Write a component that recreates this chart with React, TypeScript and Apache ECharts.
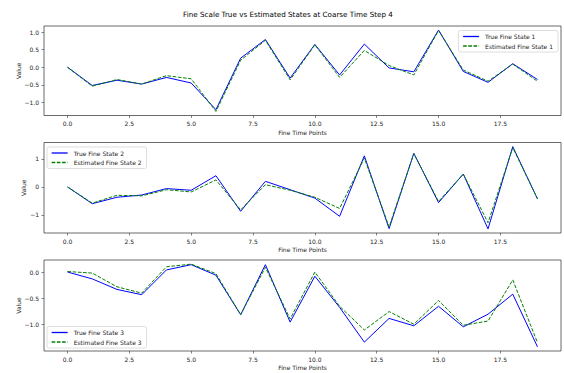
import React, { useEffect, useRef } from "react";
import * as echarts from "echarts";

// Fine time points shared by all three panels
const fineTime = [0, 1, 2, 3, 4, 5, 6, 7, 8, 9, 10, 11, 12, 13, 14, 15, 16, 17, 18, 19];

// State 1
const trueState1 = [0, -0.52, -0.37, -0.48, -0.29, -0.45, -1.21, 0.26, 0.79, -0.31, 0.65, -0.22, 0.66, -0.02, -0.13, 1.06, -0.12, -0.43, 0.1, -0.35];
const estState1 = [0, -0.54, -0.35, -0.48, -0.24, -0.33, -1.26, 0.2, 0.77, -0.36, 0.64, -0.29, 0.48, 0.05, -0.22, 1.05, -0.08, -0.4, 0.09, -0.4];

// State 2
const trueState2 = [0, -0.6, -0.37, -0.29, -0.06, -0.12, 0.4, -0.87, 0.2, -0.1, -0.4, -1.05, 1.11, -1.49, 1.2, -0.56, 0.46, -1.5, 1.44, -0.43];
const estState2 = [0, -0.58, -0.3, -0.32, -0.1, -0.18, 0.25, -0.82, 0.08, -0.12, -0.37, -0.77, 1.03, -1.43, 1.19, -0.52, 0.46, -1.28, 1.4, -0.42];

// State 3
const trueState3 = [0, -0.13, -0.33, -0.43, 0.04, 0.14, -0.06, -0.81, 0.14, -0.95, -0.08, -0.67, -1.33, -0.88, -1.02, -0.65, -1.04, -0.8, -0.42, -1.42];
const estState3 = [0.01, -0.02, -0.28, -0.4, 0.1, 0.15, -0.03, -0.81, 0.09, -0.89, 0, -0.65, -1.1, -0.75, -0.99, -0.54, -1.01, -0.93, -0.15, -1.34];

const xTicks = [0, 2.5, 5, 7.5, 10, 12.5, 15, 17.5];
const yTicks1 = [-1, -0.5, 0, 0.5, 1];
const yTicks2 = [-1, 0, 1];
const yTicks3 = [-1.5, -1, -0.5, 0];

const TITLE = "Fine Scale True vs Estimated States at Coarse Time Step 4";
const X_NAME = "Fine Time Points";
const Y_NAME = "Value";

const FONT = "DejaVu Sans";
const TEXT = "#222";
const BLUE = "#0000ff";
const GREEN = "#008000";

const pairs = (ys: number[]) => fineTime.map((t, i) => [t, ys[i]]);

function padded(values: number[]) {
  const lo = Math.min(...values);
  const hi = Math.max(...values);
  const m = (hi - lo) * 0.05;
  return { min: lo - m, max: hi + m };
}

const fmt = (digits: number) => (v: number) =>
  (v < 0 ? "\u2212" : "") + Math.abs(v).toFixed(digits);

const grids = [
  { top: 26, height: 89.5 },
  { top: 142.5, height: 90.5 },
  { top: 260, height: 91 },
];

export default function App() {
  const ref = useRef<HTMLDivElement>(null);

  useEffect(() => {
    if (!ref.current) return;
    const chart = echarts.init(ref.current, undefined, { renderer: "svg" });

    const panels = [
      { t: trueState1, e: estState1, ticks: yTicks1, digits: 1, gap: 22.5, n: 1 },
      { t: trueState2, e: estState2, ticks: yTicks2, digits: 0, gap: 17.5, n: 2 },
      { t: trueState3, e: estState3, ticks: yTicks3, digits: 1, gap: 23, n: 3 },
    ];

    const xr = padded(fineTime);

    const xAxis = panels.map((_, i) => ({
      type: "value",
      gridIndex: i,
      min: xr.min,
      max: xr.max,
      name: X_NAME,
      nameLocation: "middle",
      nameGap: 13.5,
      nameMoveOverlap: false,
      nameTextStyle: { fontFamily: FONT, fontSize: 6, color: TEXT },
      axisLine: { show: false, onZero: false },
      splitLine: { show: false },
      axisTick: {
        show: true,
        length: 2.5,
        customValues: xTicks,
        lineStyle: { color: "#333", width: 0.6 },
      },
      axisLabel: {
        customValues: xTicks,
        formatter: fmt(1),
        fontFamily: FONT,
        fontSize: 6,
        color: TEXT,
        margin: 5,
      },
    }));

    const yAxis = panels.map((p, i) => {
      const r = padded([...p.t, ...p.e]);
      return {
        type: "value",
        gridIndex: i,
        min: r.min,
        max: r.max,
        name: Y_NAME,
        nameLocation: "middle",
        nameRotate: 90,
        nameGap: p.gap,
        nameMoveOverlap: false,
        nameTextStyle: { fontFamily: FONT, fontSize: 6, color: TEXT },
        axisLine: { show: false, onZero: false },
        splitLine: { show: false },
        axisTick: {
          show: true,
          length: 2.5,
          customValues: p.ticks,
          lineStyle: { color: "#333", width: 0.6 },
        },
        axisLabel: {
          customValues: p.ticks,
          formatter: fmt(p.digits),
          fontFamily: FONT,
          fontSize: 6,
          color: TEXT,
          margin: 5,
        },
      };
    });

    const series: any[] = [];
    panels.forEach((p, i) => {
      series.push({
        type: "line",
        name: `True Fine State ${p.n}`,
        xAxisIndex: i,
        yAxisIndex: i,
        data: pairs(p.t),
        symbol: "none",
        lineStyle: { color: BLUE, width: 1 },
        itemStyle: { color: BLUE },
      });
      series.push({
        type: "line",
        name: `Estimated Fine State ${p.n}`,
        xAxisIndex: i,
        yAxisIndex: i,
        data: pairs(p.e),
        symbol: "none",
        lineStyle: { color: GREEN, width: 1, type: [3.6, 1.6] },
        itemStyle: { color: GREEN },
      });
    });

    const legendBase = {
      orient: "vertical",
      itemWidth: 16,
      itemHeight: 7,
      itemGap: 3.5,
      padding: [3, 5, 3, 4],
      backgroundColor: "rgba(255,255,255,0.8)",
      borderColor: "#d6d6d6",
      borderWidth: 0.8,
      borderRadius: 2,
      // hide the marker dot so each legend entry is just its line sample
      itemStyle: { color: "transparent", borderWidth: 0, opacity: 0 },
      lineStyle: { width: 1.3 },
      textStyle: { fontFamily: FONT, fontSize: 6, color: TEXT, padding: [0, 0, 0, 1] },
    };

    chart.setOption({
      animation: false,
      backgroundColor: "#fff",
      graphic: [
        {
          type: "text",
          x: 288,
          y: 14,
          style: {
            text: TITLE,
            fontFamily: FONT,
            fontSize: 7.2,
            fill: "#000",
            align: "center",
            verticalAlign: "middle",
          },
        },
      ],
      grid: grids.map((g) => ({
        left: 44,
        right: 3,
        top: g.top,
        height: g.height,
        show: true,
        borderColor: "#444",
        borderWidth: 0.8,
        backgroundColor: "transparent",
      })),
      xAxis,
      yAxis,
      legend: [
        { ...legendBase, data: ["True Fine State 1", "Estimated Fine State 1"], right: 6, top: 30.5 },
        { ...legendBase, data: ["True Fine State 2", "Estimated Fine State 2"], left: 47, top: 147 },
        { ...legendBase, data: ["True Fine State 3", "Estimated Fine State 3"], left: 47, top: 326.5 },
      ],
      series,
    });

    return () => chart.dispose();
  }, []);

  return (
    <div
      ref={ref}
      style={{ position: "fixed", left: 0, top: 0, width: 564, height: 373, background: "#fff" }}
    />
  );
}
